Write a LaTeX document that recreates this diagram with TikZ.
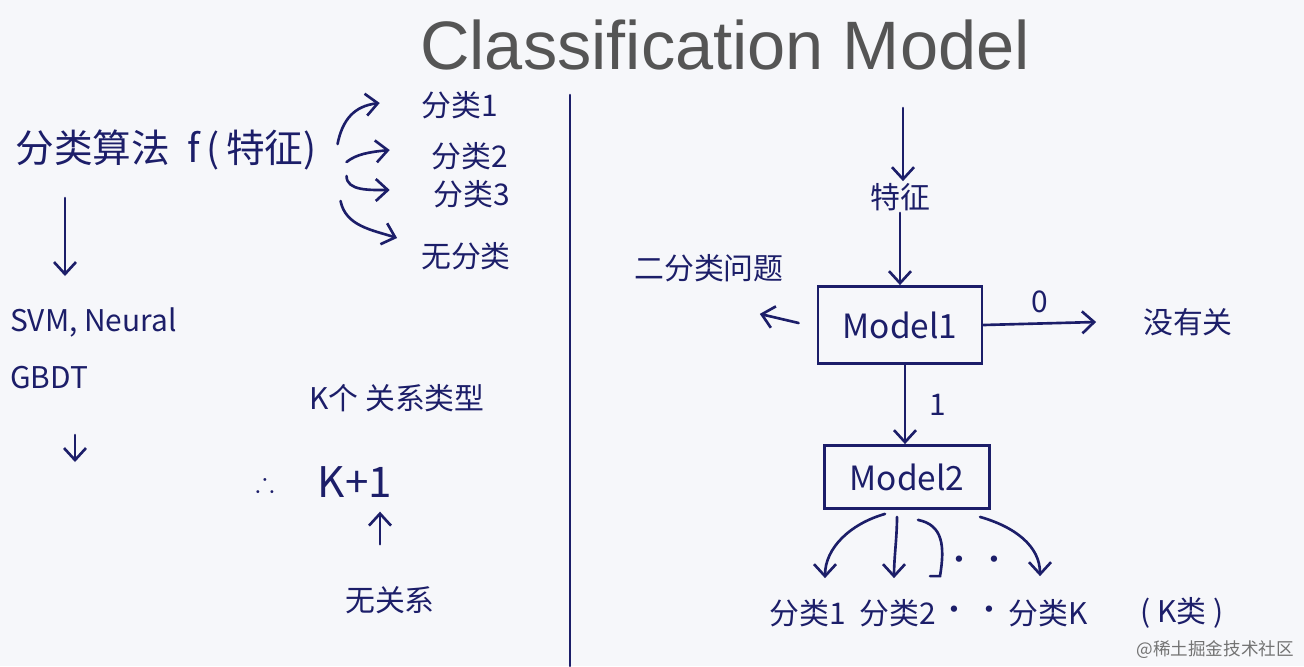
\documentclass[tikz,border=0pt]{standalone}
\usepackage{fontspec}
\usepackage{amssymb}
\setmainfont{Liberation Sans}
\newfontfamily\cjk{Noto Sans CJK SC}
\usetikzlibrary{arrows.meta,positioning,calc}
\definecolor{ink}{RGB}{28,30,105}
\definecolor{board}{RGB}{246,247,250}
\definecolor{titlegray}{RGB}{85,85,85}

\begin{document}
\begin{tikzpicture}[x=0.2mm,y=-0.2mm,
  hand/.style={text=ink,font=\cjk\fontsize{17}{20}\selectfont,inner sep=1pt},
  big/.style={text=ink,font=\cjk\fontsize{22}{26}\selectfont,inner sep=1pt},
  box/.style={draw=ink,line width=1.6pt,minimum width=32.8mm,minimum height=15.4mm,
              text=ink,font=\cjk\fontsize{19}{22}\selectfont},
  arr/.style={-{Straight Barb[length=2.4mm,width=4.4mm]},draw=ink,line width=1.5pt,line cap=round},
  pen/.style={draw=ink,line width=1.5pt,line cap=round}
]

% Board
\fill[board] (0,0) rectangle (1304,666);
\useasboundingbox (0,0) rectangle (1304,666);

% Title
\node[text=titlegray,font=\fontsize{39}{44}\selectfont] (title) at (725,45) {Classification Model};

% Divider
\coordinate (divtop) at (570,95);
\coordinate (divbot) at (570,666);
\draw[pen] (divtop) -- (divbot);

% Left: classification algorithm
\node[big] (algo) at (166,150) {分类算法\ \ f\,(\,特征)};
\node[hand] (c1) at (460,105) {分类1};
\node[hand] (c2) at (470,156) {分类2};
\node[hand] (c3) at (472,194) {分类3};
\node[hand] (cnone) at (466,256) {无分类};

\draw[arr] ([shift={(19,-6)}]algo.east) .. controls +(5,-25) and +(-25,3) .. ([shift={(-40,-2)}]c1.west);
\draw[arr] ([shift={(28,12)}]algo.east) .. controls +(10,-8) and +(-20,2) .. ([shift={(-40,-6)}]c2.west);
\draw[arr] ([shift={(28,26)}]algo.east) .. controls +(0,15) and +(-20,0) .. ([shift={(-42,-4)}]c3.west);
\draw[arr] ([shift={(22,51)}]algo.east) .. controls +(5,25) and +(-25,-8) .. ([shift={(-22,-18)}]cnone.west);

% Left: models and output
\node[hand,anchor=west] (svm) at (8,322) {SVM, Neural};
\node[hand,anchor=west] (gbdt) at (8,378) {GBDT};
\coordinate (algodown) at (65,198);
\coordinate (svmup) at (65,276);
\draw[arr] (algodown) -- (svmup);
\coordinate (gbdtdown) at (75,435);
\coordinate (gbdtend) at (75,462);
\draw[arr] (gbdtdown) -- (gbdtend);

% Left: K relation types
\node[hand] (krel) at (397,398) {K个\ 关系类型};
\node[text=ink,font=\fontsize{16}{18}\selectfont] (therefore) at (265,482) {$\therefore$};
\node[text=ink,font=\cjk\fontsize{24}{28}\selectfont] (kplus) at (355,482) {K+1};
\node[hand] (norel) at (390,600) {无关系};
\draw[arr] ([shift={(-10,-40)}]norel.north) -- ([shift={(25,8)}]kplus.south);

% Right: feature into Model1
\coordinate (featin) at (903,108);
\node[hand] (feat) at (900,197) {特征};
\draw[arr] (featin) -- ([shift={(3,0)}]feat.north);
\node[box] (model1) at (900,325) {Model1};
\draw[arr] (feat.south) -- (model1.north);

\node[hand] (binary) at (709,268) {二分类问题};
\draw[arr] ([shift={(-18,-2)}]model1.west) -- ([shift={(-26,30)}]binary.south east);

\node[hand] (noR) at (1188,322) {没有关};
\draw[arr] (model1.east) -- ([shift={(-45,0)}]noR.west) node[midway,above=2pt,text=ink,font=\cjk\fontsize{17}{20}\selectfont] (zero) {0};

% Right: Model2
\node[box,minimum width=33mm,minimum height=12.6mm] (model2) at (907,477) {Model2};
\draw[arr] ([shift={(5,0)}]model1.south) -- ([shift={(-2,0)}]model2.north) node[midway,right=10pt,text=ink,font=\cjk\fontsize{17}{20}\selectfont] (one) {1};

% Right: K classes
\node[hand] (r1) at (808,613) {分类1};
\node[hand] (r2) at (898,613) {分类2};
\node[hand] (rdots) at (972,613) {·\,·};
\node[hand] (rk) at (1048,613) {分类K};
\node[hand] (kcls) at (1182,613) {(\ K类\ )};

\draw[arr] ([shift={(-22,4)}]model2.south) .. controls +(-35,10) and +(0,-30) .. ([shift={(17,-19)}]r1.north);
\draw[arr] ([shift={(-10,7)}]model2.south) .. controls +(0,20) and +(0,-20) .. ([shift={(-4,-19)}]r2.north);
\draw[pen] ([shift={(11,10)}]model2.south) .. controls +(25,5) and +(5,-30) .. ([shift={(42,-21)}]r2.north) -- ++(-10,0);
\node[hand] (mdots) at (977,563) {·\,·};
\draw[arr] ([shift={(73,7)}]model2.south) .. controls +(35,10) and +(0,-30) .. ([shift={(-8,-21)}]rk.north);

% Watermark
\node[text=black!55,font=\cjk\fontsize{10}{12}\selectfont,anchor=east] (mark) at (1300,650) {@稀土掘金技术社区};

\end{tikzpicture}
\end{document}
